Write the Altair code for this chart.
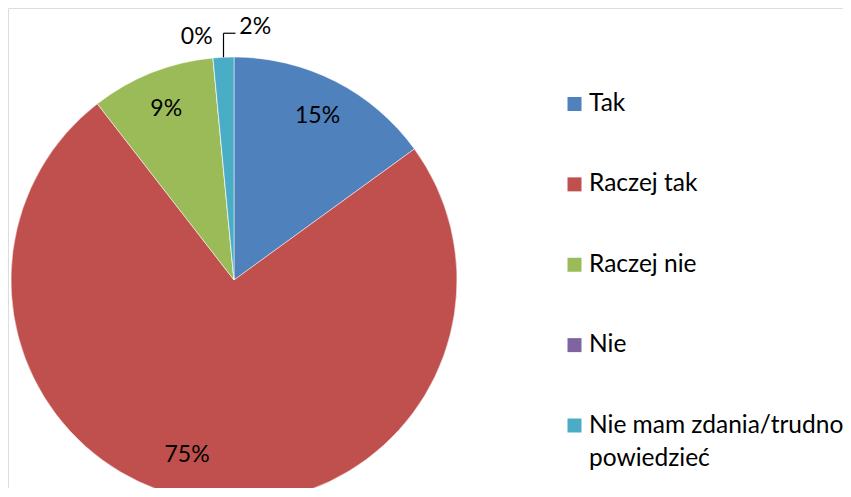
import altair as alt
import pandas as pd

categories = ["Tak", "Raczej tak", "Raczej nie", "Nie", "Nie mam zdania/trudno powiedzieć"]
values = [15.0, 74.5, 9.0, 0.0, 1.5]
labels = ["15%", "75%", "9%", "0%", "2%"]
colors = ["#4F81BD", "#C0504D", "#9BBB59", "#8064A2", "#4BACC6"]

df = pd.DataFrame({"cat": categories, "value": values, "label": labels,
                   "order": list(range(len(categories)))})

CX, CY, R = 226, 272, 223
FONT = "Lato"

color_scale = alt.Scale(domain=categories, range=colors)

base = (
    alt.Chart(df)
    .transform_joinaggregate(total="sum(value)")
    .transform_window(cum="sum(value)", sort=[alt.SortField("order")], frame=[None, 0])
    .transform_calculate(
        t0="(datum.cum - datum.value) / datum.total * 2 * PI",
        t1="datum.cum / datum.total * 2 * PI",
        tm="(datum.cum - datum.value / 2) / datum.total * 2 * PI",
    )
)

arcs = base.mark_arc(radius=R, stroke="white", strokeWidth=0.5).encode(
    x=alt.value(CX), y=alt.value(CY),
    theta=alt.Theta("t0:Q", scale=None),
    theta2=alt.Theta2("t1:Q"),
    color=alt.Color("cat:N", scale=color_scale, legend=None),
)

text_style = dict(font=FONT, fontSize=23, color="black", align="center", baseline="middle")


def label_layer(filt, radius, dx=0, dy=0):
    return base.transform_filter(filt).mark_text(radius=radius, dx=dx, dy=dy, **text_style).encode(
        x=alt.value(CX), y=alt.value(CY),
        theta=alt.Theta("tm:Q", scale=None), text="label:N",
    )


mid_labels = label_layer("datum.value >= 5 && datum.value < 50", 184)
big_label = label_layer("datum.value >= 50", 184, dx=-21, dy=-7)
zero_label = label_layer("datum.cat == 'Nie'", 247, dx=-14, dy=3)
two_label = label_layer("datum.cat == 'Nie mam zdania/trudno powiedzieć'", 250, dx=33, dy=-3)

leader = base.transform_filter("datum.cat == 'Nie mam zdania/trudno powiedzieć'").transform_calculate(
    ex=f"{CX} + {R} * sin(datum.tm)",
    ey=f"{CY} - {R} * cos(datum.tm)",
)
leader_v = leader.transform_calculate(ty="datum.ey - 24").mark_rule(color="black", strokeWidth=1.2).encode(
    x=alt.X("ex:Q", scale=None, axis=None),
    y=alt.Y("ey:Q", scale=None, axis=None),
    y2="ty:Q",
)
leader_h = leader.transform_calculate(ty="datum.ey - 24", ex2="datum.ex + 12").mark_rule(
    color="black", strokeWidth=1.2).encode(
    x=alt.X("ex:Q", scale=None, axis=None),
    x2="ex2:Q",
    y=alt.Y("ty:Q", scale=None, axis=None),
)

# legend (drawn from the category list through a point scale)
legend_y = alt.Y("cat:N", scale=alt.Scale(domain=categories, range=[96, 417.5], padding=0), axis=None)

legend_symbols = alt.Chart(df).mark_square(size=196, opacity=1, strokeWidth=0).encode(
    x=alt.value(566.5),
    y=legend_y,
    color=alt.Color("cat:N", scale=color_scale, legend=None),
)
legend_labels = alt.Chart(df).transform_calculate(
    disp="replace(datum.cat, '/trudno ', '/trudno\\n')"
).mark_text(font=FONT, fontSize=24.5, color="black", align="left", baseline="middle",
            lineBreak="\n", lineHeight=33).encode(
    x=alt.value(581),
    y=legend_y,
    text="disp:N",
)

chart = (
    alt.layer(arcs, mid_labels, big_label, zero_label, two_label, leader_v, leader_h,
              legend_symbols, legend_labels)
    .resolve_scale(y="independent", x="independent")
    .properties(width=835, height=480, autosize=alt.AutoSizeParams(type="none"), padding=0)
    .configure_view(stroke=None)
    .configure(background="white")
)

chart.save("out.html", embed_options={"renderer": "svg", "actions": False})
